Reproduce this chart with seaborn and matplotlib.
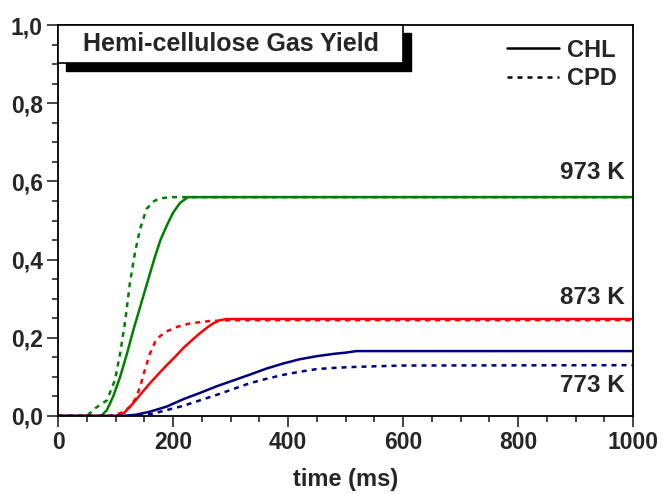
import matplotlib
matplotlib.use("Agg")
import matplotlib.pyplot as plt
from matplotlib.lines import Line2D
from matplotlib.patches import Rectangle
from matplotlib.ticker import MultipleLocator, FuncFormatter
import seaborn as sns
import pandas as pd

# Gas yield of hemi-cellulose vs. time, CHL model (solid) and CPD model (dashed)
chl_973_t = [0, 75, 85, 96, 108, 120, 131, 143, 155, 167, 178, 190, 200, 212, 226, 1000]
chl_973_y = [0, 0, 0.015, 0.05, 0.10, 0.16, 0.22, 0.28, 0.34, 0.40, 0.45, 0.49, 0.52, 0.545, 0.56, 0.56]

cpd_973_t = [0, 50, 65, 85, 99, 108, 117, 125, 134, 143, 154, 167, 177, 200, 1000]
cpd_973_y = [0, 0, 0.02, 0.04, 0.092, 0.16, 0.245, 0.34, 0.42, 0.48, 0.53, 0.55, 0.557, 0.56, 0.56]

chl_873_t = [0, 100, 115, 131, 145, 160, 175, 189, 204, 218, 233, 247, 260, 270, 280, 292, 1000]
chl_873_y = [0, 0, 0.008, 0.033, 0.058, 0.084, 0.108, 0.130, 0.152, 0.174, 0.194, 0.212, 0.227, 0.237, 0.244, 0.248, 0.248]

cpd_873_t = [0, 90, 110, 125, 135, 143, 151, 160, 169, 178, 190, 207, 230, 264, 300, 1000]
cpd_873_y = [0, 0, 0.008, 0.023, 0.045, 0.075, 0.118, 0.16, 0.19, 0.205, 0.217, 0.228, 0.237, 0.243, 0.245, 0.245]

chl_773_t = [0, 110, 135, 160, 189, 218, 247, 276, 305, 334, 362, 391, 420, 450, 480, 500, 519, 1000]
chl_773_y = [0, 0, 0.003, 0.011, 0.024, 0.043, 0.059, 0.076, 0.091, 0.106, 0.121, 0.134, 0.145, 0.153, 0.159, 0.162, 0.166, 0.166]

cpd_773_t = [0, 140, 165, 189, 218, 247, 276, 305, 334, 362, 391, 420, 450, 480, 508, 550, 600, 1000]
cpd_773_y = [0, 0, 0.006, 0.015, 0.026, 0.040, 0.054, 0.069, 0.084, 0.095, 0.105, 0.113, 0.120, 0.123, 0.125, 0.127, 0.129, 0.130]

temp_labels = ["973 K", "873 K", "773 K"]
temp_label_y = [0.624, 0.304, 0.079]
model_names = ["CHL", "CPD"]
title_text = "Hemi-cellulose Gas Yield"

GREEN = "#008000"
RED = "#ff0000"
BLUE = "#000080"
DASH = (0, (2, 2))

sns.set_theme(style="ticks")
plt.rcParams["font.family"] = ["Liberation Sans", "DejaVu Sans"]
plt.rcParams["font.weight"] = "bold"

fig = plt.figure(figsize=(6.63, 4.94), dpi=100)
ax = fig.add_axes([0.0875, 0.158, 0.8675, 0.791])

series = [
    (chl_973_t, chl_973_y, GREEN, "-"),
    (cpd_973_t, cpd_973_y, GREEN, DASH),
    (chl_873_t, chl_873_y, RED, "-"),
    (cpd_873_t, cpd_873_y, RED, DASH),
    (chl_773_t, chl_773_y, BLUE, "-"),
    (cpd_773_t, cpd_773_y, BLUE, DASH),
]
for t, y, c, ls in series:
    df = pd.DataFrame({"t": t, "y": y})
    sns.lineplot(data=df, x="t", y="y", ax=ax, color=c, linestyle=ls,
                 linewidth=1.8, estimator=None, sort=False)

ax.set_xlim(0, 1000)
ax.set_ylim(0, 1.0)
ax.xaxis.set_major_locator(MultipleLocator(200))
ax.xaxis.set_minor_locator(MultipleLocator(50))
ax.yaxis.set_major_locator(MultipleLocator(0.2))
ax.yaxis.set_minor_locator(MultipleLocator(0.05))
ax.yaxis.set_major_formatter(FuncFormatter(lambda v, p: f"{v:.1f}".replace(".", ",")))
ax.xaxis.set_major_formatter(FuncFormatter(lambda v, p: f"{v:.0f}"))
ax.tick_params(which="major", direction="out", length=8, width=1.2, labelsize=16.5, pad=3)
ax.tick_params(which="minor", direction="out", length=4, width=1.2)
ax.tick_params(top=False, right=False)
for lab in ax.get_xticklabels() + ax.get_yticklabels():
    lab.set_fontweight("bold")
for sp in ax.spines.values():
    sp.set_visible(True)
    sp.set_linewidth(1.3)
    sp.set_color("black")

ax.set_xlabel("time (ms)", fontsize=17, fontweight="bold", labelpad=10)
ax.set_ylabel("")

# temperature labels
for txt, yy in zip(temp_labels, temp_label_y):
    ax.text(986, yy, txt, ha="right", va="center", fontsize=17.5, fontweight="bold")

# legend for the two models
handles = [Line2D([], [], color="black", lw=1.8, linestyle="-"),
           Line2D([], [], color="black", lw=1.8, linestyle=DASH)]
leg = ax.legend(handles, model_names, loc="upper right", bbox_to_anchor=(0.988, 0.99),
                frameon=False, fontsize=17, handlelength=2.2, handletextpad=0.35,
                labelspacing=0.25, borderaxespad=0.0)
for t in leg.get_texts():
    t.set_fontweight("bold")

# title box with drop shadow
tr = ax.transAxes
ax.add_patch(Rectangle((0.014, 0.883), 0.6, 0.097, transform=tr, facecolor="black",
                       edgecolor="black", zorder=5, clip_on=False))
ax.add_patch(Rectangle((0.0, 0.903), 0.6, 0.097, transform=tr, facecolor="white",
                       edgecolor="black", linewidth=1.2, zorder=6, clip_on=False))
ax.text(0.3, 0.951, title_text, transform=tr, ha="center", va="center",
        fontsize=18, fontweight="bold", zorder=7)

fig.savefig("out.png", dpi=100)
